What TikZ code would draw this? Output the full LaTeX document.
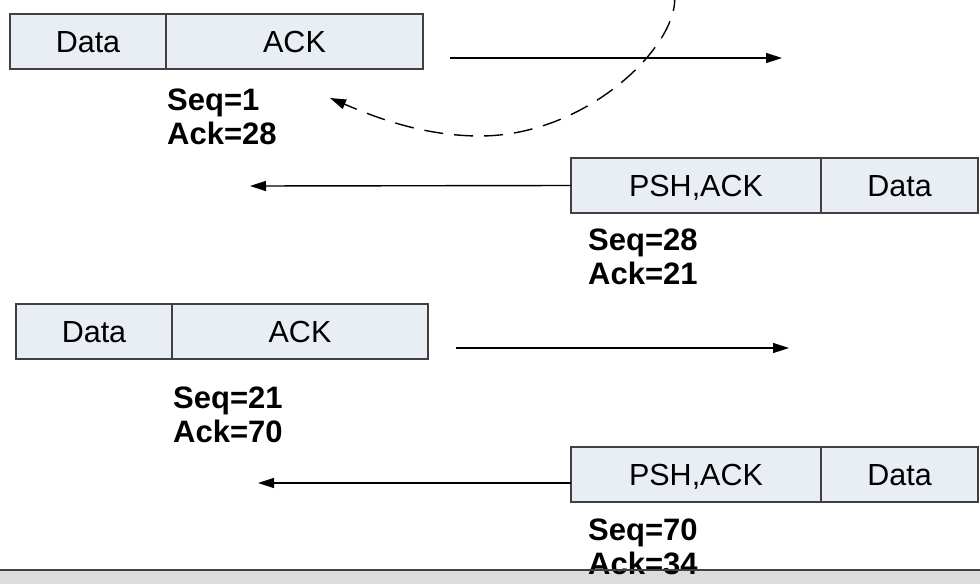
\documentclass[tikz,border=0pt]{standalone}
\usepackage{fontspec}
\setmainfont{Liberation Sans}
\usetikzlibrary{arrows.meta,positioning}
\definecolor{boxfill}{RGB}{233,237,244}
\definecolor{boxline}{RGB}{64,64,64}
\definecolor{barfill}{RGB}{220,220,220}

\begin{document}
\begin{tikzpicture}[x=1pt,y=-1pt,
    cell/.style={draw=boxline,fill=boxfill,line width=1.3pt,outer sep=0pt,
      minimum height=55pt,inner sep=0pt,text height=21pt,text depth=0pt,
      font=\fontsize{30.5}{36}\selectfont},
    seqlbl/.style={anchor=base west,inner sep=0pt,
      font=\fontsize{31}{34}\selectfont\bfseries},
    msg/.style={-{Triangle[length=16pt,width=10pt]},line width=1.4pt}]
        \useasboundingbox (0,0) rectangle (980,584);
        % ---- paketlar ----
        \node[cell,minimum width=156pt,anchor=north west] (d1) at (10,14) {Data};
        \node[cell,minimum width=257pt,right=0pt of d1] (k1) {ACK};
        \node[cell,minimum width=250pt,anchor=north west] (p2) at (571,158) {PSH,ACK};
        \node[cell,minimum width=157pt,right=0pt of p2] (d2) {Data};
        \node[cell,minimum width=156pt,anchor=north west] (d3) at (16,304) {Data};
        \node[cell,minimum width=256pt,right=0pt of d3] (k3) {ACK};
        \node[cell,minimum width=250pt,anchor=north west] (p4) at (571,447) {PSH,ACK};
        \node[cell,minimum width=157pt,right=0pt of p4] (d4) {Data};
        % ---- xabar strelkalari ----
        \coordinate (s1) at (450,58);
        \coordinate (e1) at (782,58);
        \draw[msg] (s1) -- (e1);
        \coordinate (e2) at (250,186);
        \draw[msg] (p2.west) -- (e2);
        \coordinate (s3) at (456,348);
        \coordinate (e3) at (789,348);
        \draw[msg] (s3) -- (e3);
        \coordinate (e4) at (258,483);
        \draw[msg] (p4.west |- e4) -- (e4);
        % ---- qaytish egri chizig'i ----
        \coordinate (top) at (674,-8);
        \coordinate (back) at (330,98);
        \draw[msg,dash pattern=on 19pt off 11pt]
            (top) .. controls (684,40) and (590,136) .. (480,136)
                  .. controls (420,136) and (370,115) .. (back);
        % ---- pastki chiziq ----
        \fill[barfill] (0,570) rectangle (980,584);
        % ---- Seq/Ack belgilari ----
        \foreach \n/\x/\y/\s/\a in {1/167/110/1/28, 2/588/250/28/21,
                                     3/173/408/21/70, 4/588/540/70/34} {
          \node[seqlbl] (seq\n) at (\x,\y) {Seq=\s};
          \node[seqlbl] (ack\n) at (\x,\y+34) {Ack=\a};
        }
        \draw[boxline,line width=1.2pt] (0,570) -- (980,570);
      \end{tikzpicture}
\end{document}
